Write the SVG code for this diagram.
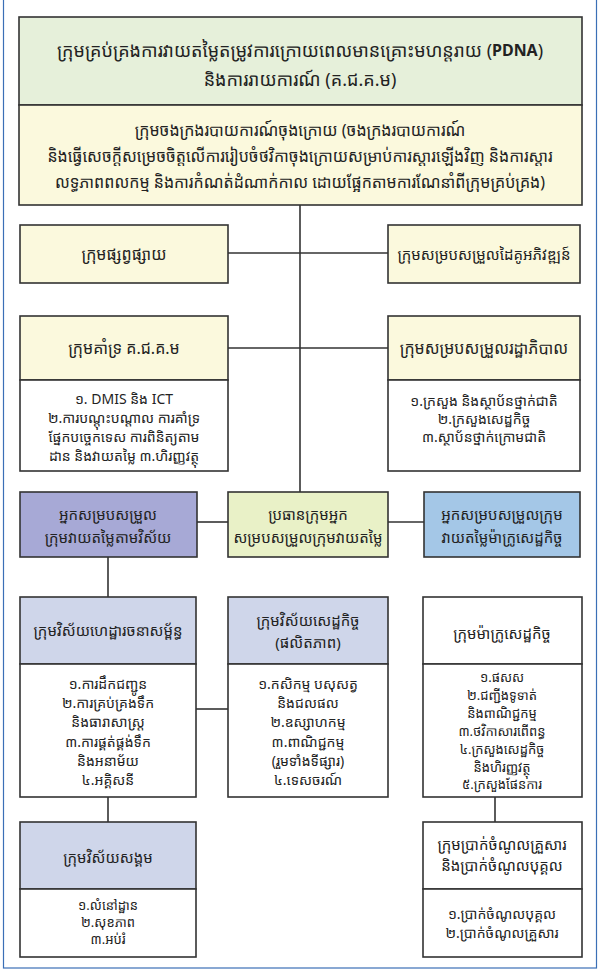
<svg xmlns="http://www.w3.org/2000/svg" width="600" height="972" viewBox="0 0 600 972">
<style>
text{font-family:"Noto Sans Khmer","Noto Sans","DejaVu Sans",sans-serif;fill:#222;text-anchor:middle;dominant-baseline:central}
.b{stroke:#333;stroke-width:1.6}
.t1{font-size:18px}
.t2{font-size:16px}
.t4{font-size:15px}
.t3{font-size:14px}
.t5{font-size:13px}
.c{stroke:#333;stroke-width:1.6;fill:none}
</style>
<rect x="3.5" y="-2" width="593" height="970" fill="#fff" stroke="#3b6fb6" stroke-width="1.2"/>
<g id="connectors">
<line class="c" x1="300" y1="205" x2="300" y2="492"/>
<line class="c" x1="228" y1="253" x2="388" y2="253"/>
<line class="c" x1="228" y1="348" x2="388" y2="348"/>
<line class="c" x1="197" y1="522" x2="228" y2="522"/>
<line class="c" x1="388" y1="522" x2="424" y2="522"/>
<line class="c" x1="108" y1="557" x2="108" y2="597"/>
<line class="c" x1="196" y1="709" x2="228" y2="709"/>
<line class="c" x1="108" y1="797" x2="108" y2="822"/>
<line class="c" x1="495" y1="797" x2="495" y2="822"/>
</g>
<g id="pdna">
<rect class="b" x="19" y="17" width="563" height="88" fill="#e6f0da"/>
<text class="t1" x="300" y="50">ក្រុមគ្រប់គ្រងការវាយតម្លៃតម្រូវការក្រោយពេលមានគ្រោះមហន្តរាយ (<tspan font-weight="bold" font-size="16">PDNA</tspan>)</text>
<text class="t1" x="300" y="79">និងការរាយការណ៍ (គ.ជ.គ.ម)</text>
</g>
<g id="final-report">
<rect class="b" x="19" y="105" width="563" height="100" fill="#fbf9dd"/>
<text class="t2" x="300" y="130">ក្រុមចងក្រងរបាយការណ៍ចុងក្រោយ (ចងក្រងរបាយការណ៍</text>
<text class="t2" x="300" y="156">និងធ្វើសេចក្ដីសម្រេចចិត្តលើការរៀបចំថវិកាចុងក្រោយសម្រាប់ការស្ដារឡើងវិញ និងការស្ដារ</text>
<text class="t2" x="300" y="182">លទ្ធភាពពលកម្ម និងការកំណត់ដំណាក់កាល ដោយផ្អែកតាមការណែនាំពីក្រុមគ្រប់គ្រង)</text>
</g>
<g id="dissemination">
<rect class="b" x="20" y="225" width="208" height="58" fill="#fbf9dd"/>
<text class="t2" x="124" y="254">ក្រុមផ្សព្វផ្សាយ</text>
</g>
<g id="partners">
<rect class="b" x="388" y="225" width="192" height="58" fill="#fbf9dd"/>
<text class="t4" x="484" y="254">ក្រុមសម្របសម្រួលដៃគូអភិវឌ្ឍន៍</text>
</g>
<g id="support">
<rect class="b" x="20" y="316" width="208" height="64" fill="#fbf9dd"/>
<rect class="b" x="20" y="380" width="208" height="91" fill="#fff"/>
<text class="t2" x="124" y="348">ក្រុមគាំទ្រ គ.ជ.គ.ម</text>
<text class="t3" x="124" y="398">១. DMIS និង ICT</text>
<text class="t3" x="124" y="417">២.ការបណ្ដុះបណ្ដាល ការគាំទ្រ</text>
<text class="t3" x="124" y="436">ផ្នែកបច្ចេកទេស ការពិនិត្យតាម</text>
<text class="t3" x="124" y="455">ដាន និងវាយតម្លៃ ៣.ហិរញ្ញវត្ថុ</text>
</g>
<g id="government">
<rect class="b" x="388" y="316" width="192" height="64" fill="#fbf9dd"/>
<rect class="b" x="388" y="380" width="192" height="91" fill="#fff"/>
<text class="t2" x="484" y="348">ក្រុមសម្របសម្រួលរដ្ឋាភិបាល</text>
<text class="t3" x="484" y="400">១.ក្រសួង និងស្ថាប័នថ្នាក់ជាតិ</text>
<text class="t3" x="484" y="418">២.ក្រសួងសេដ្ឋកិច្ច</text>
<text class="t3" x="484" y="436">៣.ស្ថាប័នថ្នាក់ក្រោមជាតិ</text>
</g>
<g id="sector-coord">
<rect class="b" x="20" y="492" width="177" height="65" fill="#a7a9d6"/>
<text class="t4" x="108" y="514">អ្នកសម្របសម្រួល</text>
<text class="t4" x="108" y="537">ក្រុមវាយតម្លៃតាមវិស័យ</text>
</g>
<g id="chief-coord">
<rect class="b" x="228" y="492" width="160" height="65" fill="#e9f1c7"/>
<text class="t4" x="308" y="514">ប្រធានក្រុមអ្នក</text>
<text class="t4" x="308" y="537">សម្របសម្រួលក្រុមវាយតម្លៃ</text>
</g>
<g id="macro-coord">
<rect class="b" x="424" y="492" width="156" height="65" fill="#a4c7e7"/>
<text class="t4" x="502" y="514">អ្នកសម្របសម្រួលក្រុម</text>
<text class="t4" x="502" y="537">វាយតម្លៃម៉ាក្រូសេដ្ឋកិច្ច</text>
</g>
<g id="infrastructure">
<rect class="b" x="20" y="597" width="176" height="67" fill="#cfd6ea"/>
<rect class="b" x="20" y="664" width="176" height="133" fill="#fff"/>
<text class="t4" x="108" y="630">ក្រុមវិស័យហេដ្ឋារចនាសម្ព័ន្ធ</text>
<text class="t3" x="108" y="683">១.ការដឹកជញ្ជូន</text>
<text class="t3" x="108" y="702">២.ការគ្រប់គ្រងទឹក</text>
<text class="t3" x="108" y="721">និងធារាសាស្ត្រ</text>
<text class="t3" x="108" y="741">៣.ការផ្គត់ផ្គង់ទឹក</text>
<text class="t3" x="108" y="760">និងអនាម័យ</text>
<text class="t3" x="108" y="779">៤.អគ្គិសនី</text>
</g>
<g id="productive">
<rect class="b" x="228" y="597" width="160" height="67" fill="#cfd6ea"/>
<rect class="b" x="228" y="664" width="160" height="133" fill="#fff"/>
<text class="t4" x="308" y="620">ក្រុមវិស័យសេដ្ឋកិច្ច</text>
<text class="t4" x="308" y="642">(ផលិតភាព)</text>
<text class="t3" x="308" y="683">១.កសិកម្ម បសុសត្វ</text>
<text class="t3" x="308" y="702">និងជលផល</text>
<text class="t3" x="308" y="721">២.ឧស្សាហកម្ម</text>
<text class="t3" x="308" y="741">៣.ពាណិជ្ជកម្ម</text>
<text class="t3" x="308" y="760">(រួមទាំងទីផ្សារ)</text>
<text class="t3" x="308" y="779">៤.ទេសចរណ៍</text>
</g>
<g id="macro">
<rect class="b" x="423" y="597" width="159" height="67" fill="#fff"/>
<rect class="b" x="423" y="664" width="159" height="133" fill="#fff"/>
<text class="t4" x="502" y="633">ក្រុមម៉ាក្រូសេដ្ឋកិច្ច</text>
<text class="t5" x="502" y="677">១.ផសស</text>
<text class="t5" x="502" y="695">២.ជញ្ជីងទូទាត់</text>
<text class="t5" x="502" y="713">និងពាណិជ្ជកម្ម</text>
<text class="t5" x="502" y="731">៣.ថវិកាសារពើពន្ធ</text>
<text class="t5" x="502" y="749">៤.ក្រសួងសេដ្ឋកិច្ច</text>
<text class="t5" x="502" y="767">និងហិរញ្ញវត្ថុ</text>
<text class="t5" x="502" y="784">៥.ក្រសួងផែនការ</text>
</g>
<g id="social">
<rect class="b" x="20" y="822" width="176" height="67" fill="#cfd6ea"/>
<rect class="b" x="20" y="889" width="176" height="68" fill="#fff"/>
<text class="t4" x="108" y="857">ក្រុមវិស័យសង្គម</text>
<text class="t5" x="108" y="905">១.លំនៅដ្ឋាន</text>
<text class="t5" x="108" y="922">២.សុខភាព</text>
<text class="t5" x="108" y="939">៣.អប់រំ</text>
</g>
<g id="income">
<rect class="b" x="423" y="822" width="159" height="67" fill="#fff"/>
<rect class="b" x="423" y="889" width="159" height="68" fill="#fff"/>
<text class="t4" x="502" y="844">ក្រុមប្រាក់ចំណូលគ្រួសារ</text>
<text class="t4" x="502" y="865">និងប្រាក់ចំណូលបុគ្គល</text>
<text class="t3" x="502" y="913">១.ប្រាក់ចំណូលបុគ្គល</text>
<text class="t3" x="502" y="932">២.ប្រាក់ចំណូលគ្រួសារ</text>
</g>
</svg>
